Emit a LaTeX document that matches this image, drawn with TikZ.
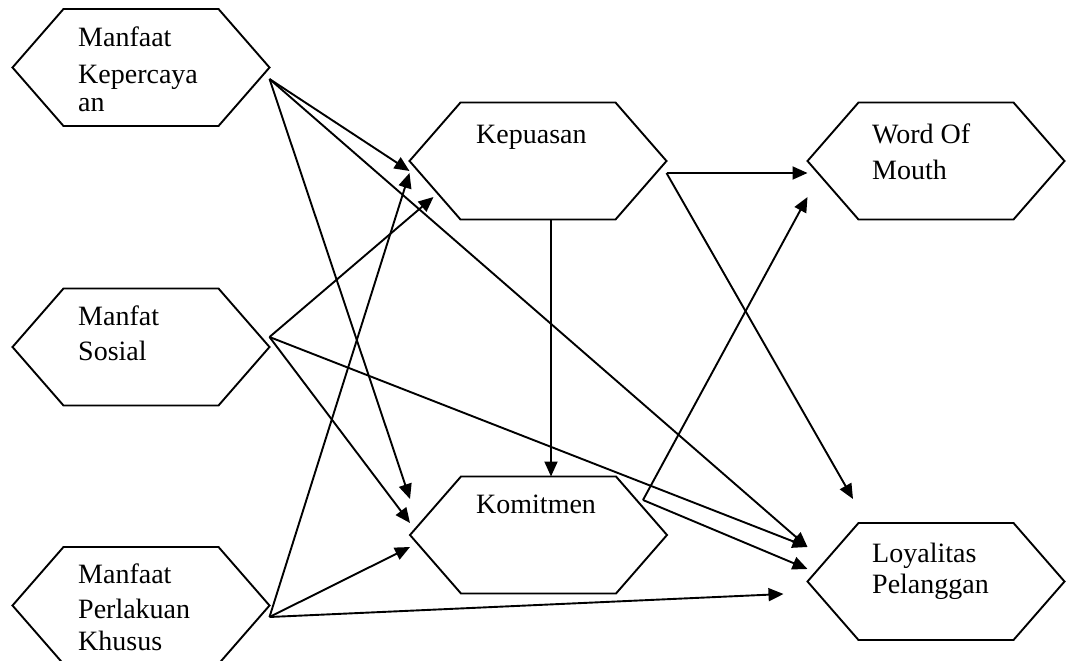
\documentclass[tikz,border=0pt]{standalone}
\usepackage{fontspec}
\setmainfont{Liberation Serif}
\usetikzlibrary{arrows.meta}
\begin{document}
\begin{tikzpicture}[x=1pt,y=-1pt,
  hexbox/.style={minimum width=257pt, minimum height=117pt, inner sep=0pt, outer sep=0pt},
  hexline/.style={draw=black, line width=1.9pt, line join=miter},
  txt/.style={anchor=base west, inner sep=0pt, align=left, font=\fontsize{28}{34}\selectfont},
  arr/.style={line width=1.9pt, -{Triangle[length=15pt,width=13pt]}},
]
\useasboundingbox (0,0) rectangle (1068,661);
\clip (0,0) rectangle (1068,661);

% hexagon frames (as nodes)
\node[hexbox] (h1) at (141,67.5) {};
\node[hexbox] (h4) at (141,347) {};
\node[hexbox] (h7) at (141,605.5) {};
\node[hexbox] (h2) at (538,161) {};
\node[hexbox] (h5) at (538.5,535) {};
\node[hexbox] (h3) at (936,161) {};
\node[hexbox] (h6) at (936,581.5) {};

\foreach \n in {h1,h2,h3,h4,h5,h6,h7}
  \draw[hexline] (\n.west) -- ([xshift=51pt]\n.north west) -- ([xshift=-51pt]\n.north east)
    -- (\n.east) -- ([xshift=-51pt]\n.south east) -- ([xshift=51pt]\n.south west) -- cycle;

% texts (anchor = baseline of the last line)
\node[txt] (t1) at (78,111.7) {Manfaat\\[2.6pt]Kepercaya\\[-5.7pt]an};
\node[txt] (t2) at (476,143) {Kepuasan};
\node[txt] (t3) at (872,179) {Word Of\\[2pt]Mouth};
\node[txt] (t4) at (78,360) {Manfat\\[1pt]Sosial};
\node[txt] (t5) at (476,513) {Komitmen};
\node[txt] (t6) at (872,593) {Loyalitas\\[-3pt]Pelanggan};
\node[txt] (t7) at (78,650) {Manfaat\\[1pt]Perlakuan\\[-2pt]Khusus};

% connectors from Manfaat Kepercayaan
\draw[arr] ([yshift=-11.5pt]h1.east) -- ([yshift=-10pt]h2.west);
\draw[arr] ([yshift=-11.5pt]h1.east) -- ([yshift=36pt]h5.west);
\draw[arr] ([yshift=-11.5pt]h1.east) -- ([yshift=34.5pt]h6.west);
% from Manfat Sosial
\draw[arr] ([yshift=10pt]h4.east) -- ([xshift=24pt,yshift=-36pt]h2.west);
\draw[arr] ([yshift=10pt]h4.east) -- ([yshift=12pt]h5.west);
\draw[arr] ([yshift=10pt]h4.east) -- ([yshift=34.5pt]h6.west);
% from Manfaat Perlakuan Khusus
\draw[arr] ([yshift=-11.5pt]h7.east) -- ([yshift=-12pt]h2.west);
\draw[arr] ([yshift=-11.5pt]h7.east) -- ([yshift=-12pt]h5.west);
\draw[arr] ([yshift=-11.5pt]h7.east) -- ([xshift=-24pt,yshift=-12.5pt]h6.west);
% from Kepuasan
\draw[arr] ([yshift=-12pt]h2.east) -- ([yshift=-12pt]h3.west);
\draw[arr] ([yshift=-12pt]h2.east) -- ([xshift=-83pt,yshift=24pt]h6.north);
\draw[arr] ([xshift=13pt]h2.south) -- ([xshift=12.5pt]h5.north);
% from Komitmen
\draw[arr] ([xshift=-24pt,yshift=35pt]h5.east) -- ([yshift=-36pt]h3.west);
\draw[arr] ([xshift=-24pt,yshift=35pt]h5.east) -- ([yshift=12.5pt]h6.west);
\end{tikzpicture}
\end{document}
